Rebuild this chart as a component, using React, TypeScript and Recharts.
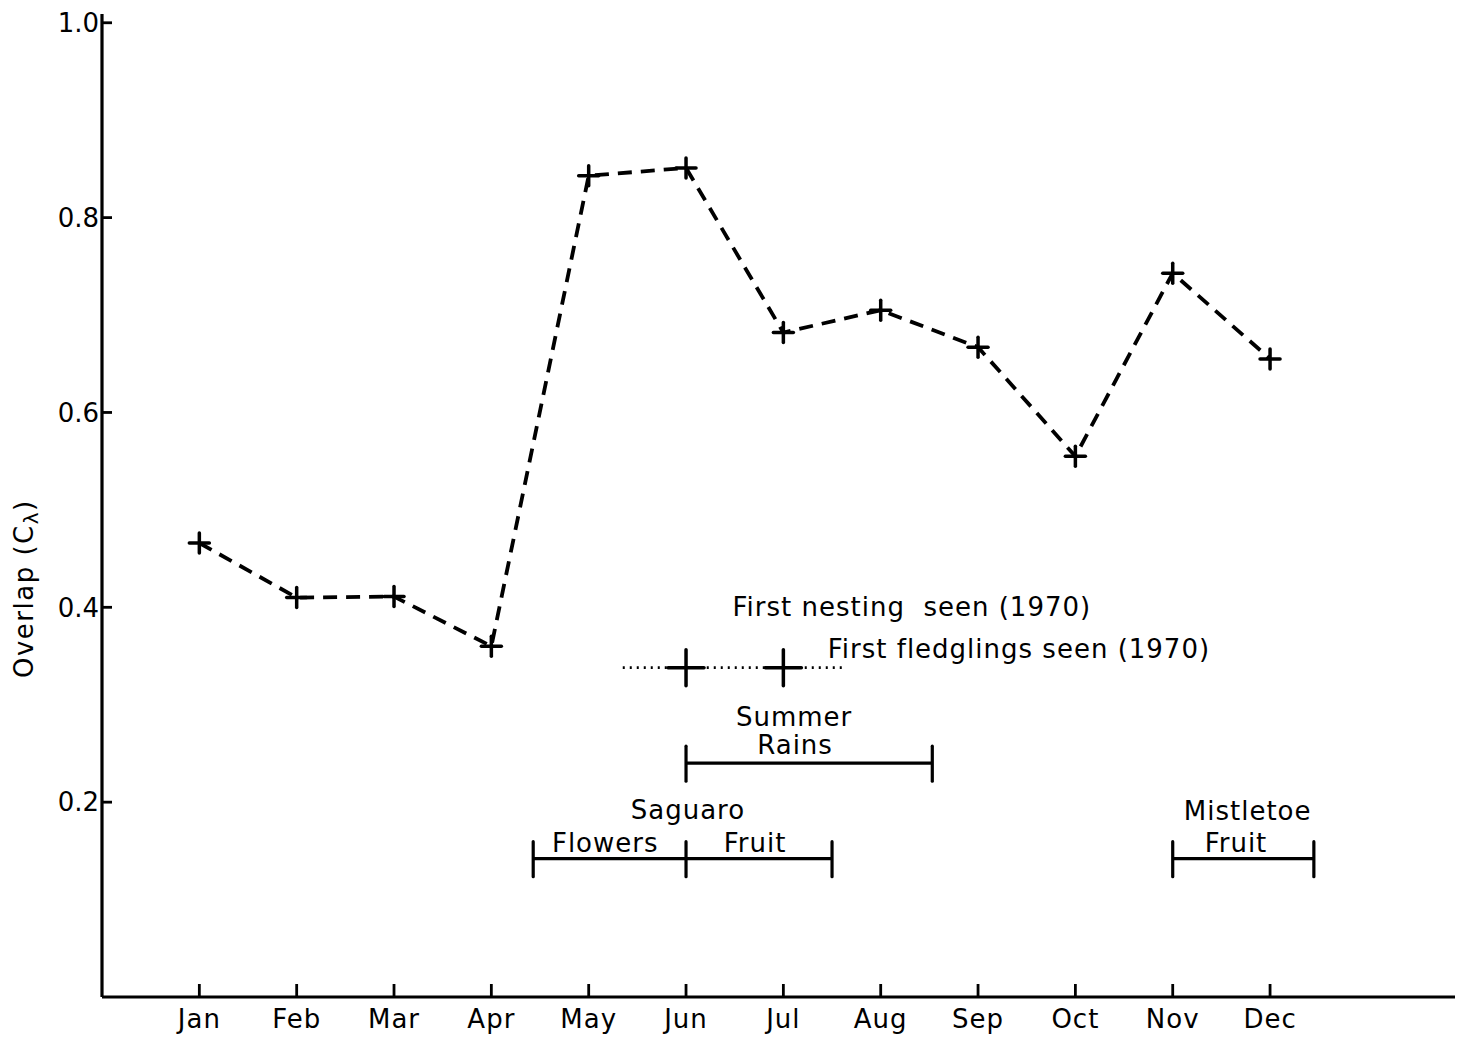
import React from "react";
import {
  ComposedChart,
  Line,
  Scatter,
  XAxis,
  YAxis,
} from "recharts";

// month index: Jan = 1 ... Dec = 12
const months = ["Jan", "Feb", "Mar", "Apr", "May", "Jun", "Jul", "Aug", "Sep", "Oct", "Nov", "Dec"];
const monthIdx = [1, 2, 3, 4, 5, 6, 7, 8, 9, 10, 11, 12];
const overlap = [0.466, 0.41, 0.411, 0.36, 0.843, 0.851, 0.682, 0.705, 0.667, 0.555, 0.743, 0.655];
const yTicks = [0.2, 0.4, 0.6, 0.8, 1.0];

// seasonal event bars (month positions) and their level on the y scale
const saguaroBar = [4.43, 6, 7.5];
const saguaroLevel = 0.142;
const rainsBar = [6, 8.53];
const rainsLevel = 0.24;
const mistletoeBar = [11, 12.45];
const mistletoeLevel = 0.142;
const nestingSpan = [5.35, 7.63];
const nestingMarks = [6, 7];
const nestingLevel = 0.338;

const noteText = [
  "First nesting  seen (1970)",
  "First fledglings seen (1970)",
  "Summer",
  "Rains",
  "Saguaro",
  "Flowers",
  "Fruit",
  "Mistletoe",
  "Fruit",
];
const noteMonth = [8.32, 9.42, 7.11, 7.12, 6.02, 5.17, 6.71, 11.77, 11.65];
const noteLevel = [0.401, 0.358, 0.288, 0.259, 0.192, 0.158, 0.158, 0.191, 0.158];

const FONT = "'DejaVu Sans', sans-serif";
const INK = "#000";

const mainData = monthIdx.map((m, i) => ({ m, v: overlap[i] }));
const bar = (xs: number[], level: number) => xs.map((m) => ({ m, v: level }));
const notes = noteText.map((text, i) => ({ m: noteMonth[i], v: noteLevel[i], text }));

function Plus({ cx, cy, size }: { cx: number; cy: number; size: number }) {
  if (cx == null || cy == null) return null;
  return (
    <g stroke={INK} strokeWidth={3.5} strokeLinecap="round">
      <line x1={cx - size} y1={cy} x2={cx + size} y2={cy} />
      <line x1={cx} y1={cy - size} x2={cx} y2={cy + size} />
    </g>
  );
}

function EndTick({ cx, cy }: { cx: number; cy: number }) {
  if (cx == null || cy == null) return null;
  return (
    <line x1={cx} y1={cy - 17} x2={cx} y2={cy + 18} stroke={INK} strokeWidth={3.2} strokeLinecap="round" />
  );
}

const YLabel = () => (
  <text
    x={33}
    y={678}
    transform="rotate(-90 33 678)"
    fontFamily={FONT}
    fontSize={26}
    fill={INK}
    letterSpacing={1.5}
  >
    Overlap (C
    <tspan fontSize={20} dy={5}>λ</tspan>
    <tspan dy={-5}>)</tspan>
  </text>
);

export default function App() {
  return (
    <div style={{ position: "absolute", left: 0, top: 0, background: "#fff" }}>
      <ComposedChart
        width={1457}
        height={1039}
        margin={{ top: 14, right: 2, bottom: 2, left: 42 }}
      >
        <XAxis
          type="number"
          dataKey="m"
          domain={[0, 13.9]}
          ticks={monthIdx}
          tickFormatter={(v) => months[v - 1]}
          allowDataOverflow
          height={40}
          tickSize={-13}
          tickMargin={26}
          axisLine={{ stroke: INK, strokeWidth: 3.2 }}
          tickLine={{ stroke: INK, strokeWidth: 2.8 }}
          tick={{ fontFamily: FONT, fontSize: 26, fill: INK, letterSpacing: 1 }}
        />
        <YAxis
          type="number"
          dataKey="v"
          domain={[0, 1.009]}
          ticks={yTicks}
          tickFormatter={(v) => v.toFixed(1)}
          allowDataOverflow
          width={60}
          tickSize={-10}
          tickMargin={13}
          axisLine={{ stroke: INK, strokeWidth: 3.2 }}
          tickLine={{ stroke: INK, strokeWidth: 2.8 }}
          tick={{ fontFamily: FONT, fontSize: 26, fill: INK }}
          label={{ content: () => <YLabel /> }}
        />

        <Line
          data={mainData}
          dataKey="v"
          stroke={INK}
          strokeWidth={3.8}
          strokeDasharray="14 9"
          dot={(p: any) => <Plus key={`m${p.index}`} cx={p.cx} cy={p.cy} size={10} />}
          activeDot={false}
          isAnimationActive={false}
        />

        <Line
          data={bar(nestingSpan, nestingLevel)}
          dataKey="v"
          stroke={INK}
          strokeWidth={2.8}
          strokeDasharray="2 5"
          dot={false}
          activeDot={false}
          isAnimationActive={false}
        />
        <Scatter
          data={bar(nestingMarks, nestingLevel)}
          dataKey="v"
          shape={(p: any) => <Plus cx={p.cx} cy={p.cy} size={18} />}
          isAnimationActive={false}
        />

        {[
          bar(saguaroBar, saguaroLevel),
          bar(rainsBar, rainsLevel),
          bar(mistletoeBar, mistletoeLevel),
        ].map((d, k) => (
          <Line
            key={`bar${k}`}
            data={d}
            dataKey="v"
            stroke={INK}
            strokeWidth={3.2}
            dot={(p: any) => <EndTick key={`t${k}-${p.index}`} cx={p.cx} cy={p.cy} />}
            activeDot={false}
            isAnimationActive={false}
          />
        ))}

        <Scatter
          data={notes}
          dataKey="v"
          isAnimationActive={false}
          shape={(p: any) => (
            <text
              x={p.cx}
              y={p.cy}
              dy="0.36em"
              textAnchor="middle"
              fontFamily={FONT}
              fontSize={26}
              letterSpacing={1}
              fill={INK}
              style={{ whiteSpace: "pre" }}
            >
              {p.payload.text}
            </text>
          )}
        />
      </ComposedChart>
    </div>
  );
}
